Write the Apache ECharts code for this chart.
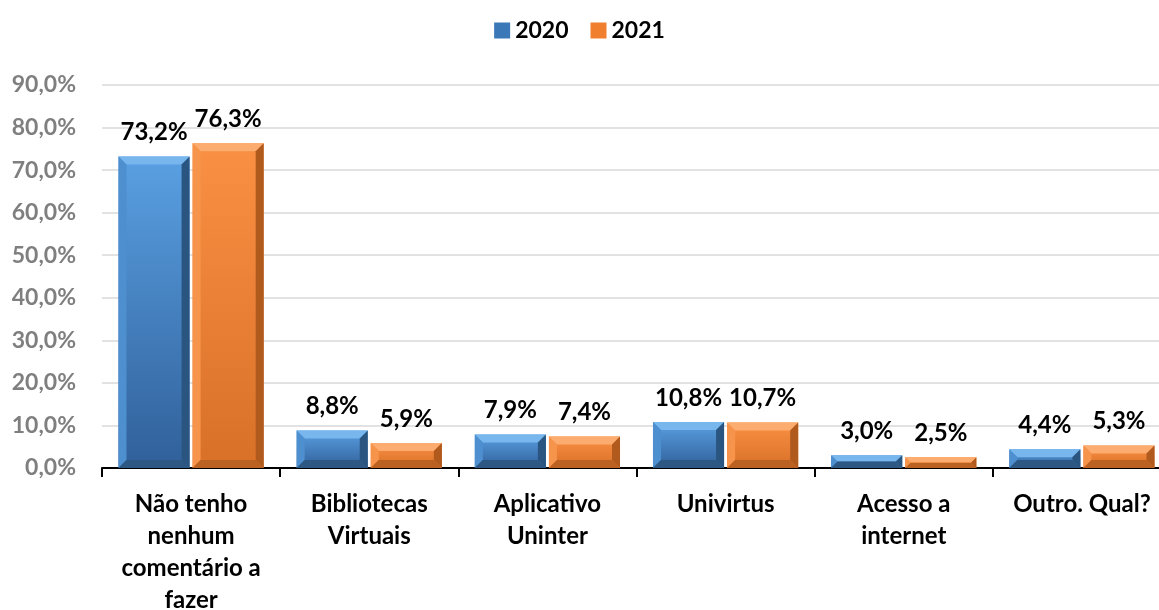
<!DOCTYPE html>
<html>
<head>
<meta charset="utf-8">
<script src="https://cdn.jsdelivr.net/npm/echarts@6/dist/echarts.min.js"></script>
<style>html,body{margin:0;padding:0;background:#fff}#c{width:1159px;height:610px}</style>
</head>
<body>
<div id="c"></div>
<script>
const categories = ["Não tenho\nnenhum\ncomentário a\nfazer", "Bibliotecas\nVirtuais", "Aplicativo\nUninter", "Univirtus", "Acesso a\ninternet", "Outro. Qual?"];
const seriesNames = ["2020", "2021"];
const series2020 = [73.2, 8.8, 7.9, 10.8, 3.0, 4.4];
const series2021 = [76.3, 5.9, 7.4, 10.7, 2.5, 5.3];
const yTicks = [0, 10, 20, 30, 40, 50, 60, 70, 80, 90];

const FONT = 'Lato';
const fmt = v => v.toFixed(1).replace('.', ',') + '%';

const palettes = [
  {faceTop: '#5aa0e2', faceBot: '#30609a', top: '#78b6ee', left: '#4e8fcf', right: '#2a5580', bottom: '#2e5884', legend: '#3b78b8'},
  {faceTop: '#fa9043', faceBot: '#d87028', top: '#fcac6e', left: '#f7944c', right: '#b05a1e', bottom: '#bb6223', legend: '#f07f30'}
];

function makeRender(si) {
  const pal = palettes[si];
  return function (params, api) {
    const cat = api.value(0), v = api.value(1);
    const center = api.coord([cat, 0]);
    const topPt = api.coord([cat, v]);
    const band = api.size([1, 0])[0];
    const bw = band * 0.399, gap = band * 0.017;
    const x = center[0] - (2 * bw + gap) / 2 + si * (bw + gap);
    const y = topPt[1], h = center[1] - topPt[1], w = bw;
    const b = Math.min(8, h / 2, w / 2);
    const face = new echarts.graphic.LinearGradient(0, 0, 0, 1, [
      {offset: 0, color: pal.faceTop}, {offset: 1, color: pal.faceBot}
    ]);
    return {
      type: 'group',
      children: [
        {type: 'rect', shape: {x: x, y: y, width: w, height: h}, style: {fill: face}},
        {type: 'polygon', shape: {points: [[x, y], [x + w, y], [x + w - b, y + b], [x + b, y + b]]}, style: {fill: pal.top}},
        {type: 'polygon', shape: {points: [[x, y], [x + b, y + b], [x + b, y + h - b], [x, y + h]]}, style: {fill: pal.left}},
        {type: 'polygon', shape: {points: [[x + w, y], [x + w - b, y + b], [x + w - b, y + h - b], [x + w, y + h]]}, style: {fill: pal.right}},
        {type: 'polygon', shape: {points: [[x, y + h], [x + b, y + h - b], [x + w - b, y + h - b], [x + w, y + h]]}, style: {fill: pal.bottom}},
        {type: 'text', x: x + w / 2, y: y - 12,
          style: {text: fmt(v), align: 'center', verticalAlign: 'bottom',
            font: 'bold 24px ' + FONT, fill: '#000'}}
      ]
    };
  };
}

const chart = echarts.init(document.getElementById('c'));
chart.setOption({
  animation: false,
  textStyle: {fontFamily: FONT},
  legend: {
    top: 14, left: 'center',
    icon: 'rect',
    itemWidth: 16, itemHeight: 16, itemGap: 22,
    textStyle: {fontFamily: FONT, fontWeight: 'bold', fontSize: 23, color: '#000'},
    data: seriesNames
  },
  grid: {left: 102, right: -12, top: 85, bottom: 142, containLabel: false, outerBoundsMode: 'none'},
  xAxis: {
    type: 'category',
    data: categories,
    axisLine: {lineStyle: {color: '#000', width: 2}},
    axisTick: {show: true, length: 9, lineStyle: {color: '#000', width: 2}},
    axisLabel: {
      interval: 0, margin: 20, lineHeight: 32,
      fontFamily: FONT, fontWeight: 'bold', fontSize: 24, color: '#000'
    }
  },
  yAxis: {
    type: 'value', min: 0, max: 90, interval: 10,
    axisLine: {show: false}, axisTick: {show: false},
    splitLine: {lineStyle: {color: '#d9d9d9', width: 1.5}},
    axisLabel: {
      margin: 26, fontFamily: FONT, fontWeight: 'bold', fontSize: 23, color: '#7f7f7f',
      formatter: v => yTicks.includes(v) ? fmt(v) : ''
    }
  },
  series: [series2020, series2021].map((arr, si) => ({
    name: seriesNames[si],
    type: 'custom',
    renderItem: makeRender(si),
    encode: {x: 0, y: 1},
    itemStyle: {color: palettes[si].legend},
    data: arr.map((v, i) => [i, v]),
    z: 3
  }))
});
</script>
</body>
</html>
